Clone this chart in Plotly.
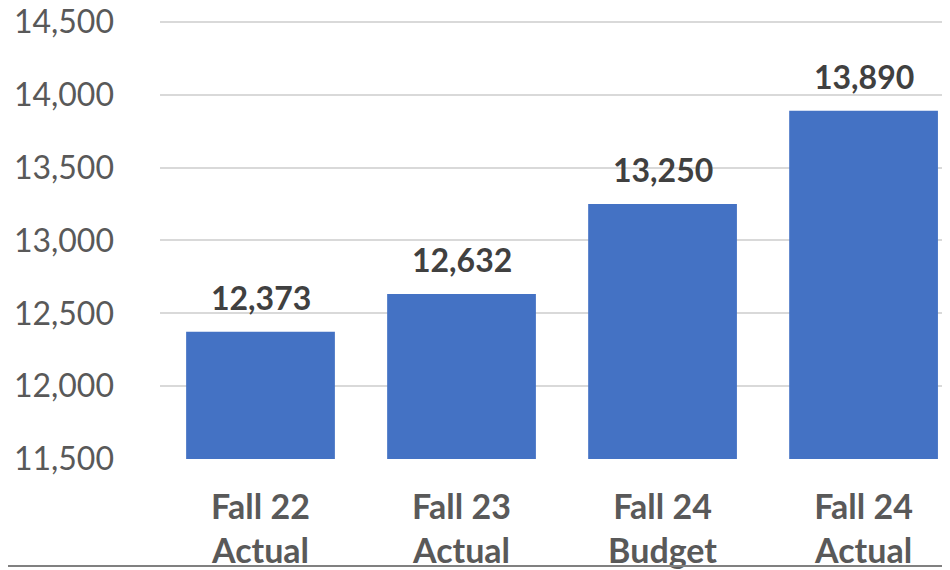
import plotly.graph_objects as go

categories = ["Fall 22<br>Actual", "Fall 23<br>Actual", "Fall 24<br>Budget", "Fall 24<br>Actual"]
values = [12373, 12632, 13250, 13890]
tick_vals = [11500, 12000, 12500, 13000, 13500, 14000, 14500]
tick_text = ["11,500", "12,000", "12,500", "13,000", "13,500", "14,000", "14,500"]

fig = go.Figure()
fig.add_trace(go.Bar(x=categories, y=values, marker_color="#4472C4", marker_line_width=0))

for c, v in zip(categories, values):
    fig.add_annotation(x=c, y=v, text=f"{v:,}", showarrow=False, yanchor="bottom", yshift=13,
                       font=dict(family="Lato", size=32, color="#404040", weight="bold"))

fig.add_shape(type="line", xref="paper", yref="paper", x0=-0.2, x1=1.02, y0=-0.2415, y1=-0.2415,
              line=dict(color="#808080", width=2))

fig.update_layout(
    width=950, height=570,
    margin=dict(l=152, r=8, t=8, b=119, autoexpand=False),
    paper_bgcolor="white", plot_bgcolor="white",
    bargap=0.26, showlegend=False,
    xaxis=dict(range=[-0.5, 3.43], showgrid=False, showline=False, ticks="", automargin=False,
               ticklabelstandoff=25, ticklabeloverflow="allow",
               tickfont=dict(family="Lato", size=34, color="#595959", weight="bold")),
    yaxis=dict(range=[11500, 14541], tickvals=tick_vals, ticktext=tick_text, automargin=False,
               showgrid=True, gridcolor="#D9D9D9", gridwidth=2, zeroline=False, showline=False,
               ticks="", ticklabelstandoff=45, ticklabeloverflow="allow",
               tickfont=dict(family="Lato", size=32, color="#595959")),
)
fig.write_html("out.html")
